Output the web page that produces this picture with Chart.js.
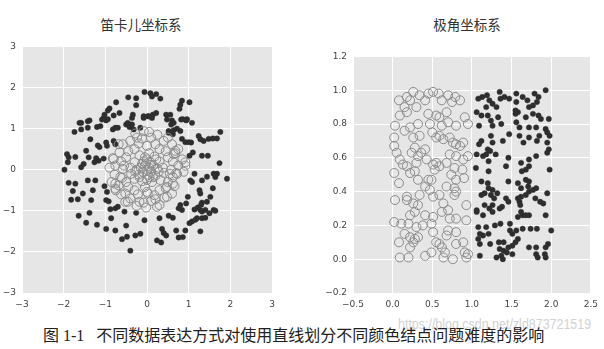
<!DOCTYPE html>
<html>
<head>
<meta charset="utf-8">
<script src="https://cdn.jsdelivr.net/npm/chart.js@4/dist/chart.umd.min.js"></script>
<style>
  html, body { margin: 0; padding: 0; background: #ffffff; }
  body { width: 604px; height: 349px; position: relative; overflow: hidden; }
  .box { position: absolute; }
  .title { position: absolute; font-family: "Noto Sans CJK SC", sans-serif; font-size: 13.5px; color: #333; transform: translateX(-50%); white-space: nowrap; line-height: 1; }
  #caption { position: absolute; left: 43px; top: 328px; font-family: "Liberation Serif", "Noto Sans CJK SC", serif; font-size: 16px; color: #222; white-space: nowrap; line-height: 1; }
  #watermark { position: absolute; left: 398px; top: 316px; font-family: "Liberation Sans", sans-serif; font-size: 15px; color: #d2d2d2; white-space: nowrap; line-height: 1; transform: scaleX(0.83); transform-origin: left top; }
</style>
</head>
<body>
<div class="title" style="left:141px; top:18px;">笛卡儿坐标系</div>
<div class="title" style="left:467px; top:18px;">极角坐标系</div>
<div class="box" style="left:0px; top:35px; width:285px; height:275px;"><canvas id="c1"></canvas></div>
<div class="box" style="left:320px; top:45px; width:284px; height:265px;"><canvas id="c2"></canvas></div>
<div id="watermark">https://blog.csdn.net/zld873721519</div>
<div id="caption">图 1-1&nbsp;&nbsp;&nbsp;不同数据表达方式对使用直线划分不同颜色结点问题难度的影响</div>
<script>
// ---------- DATA ----------
const cartesianTicks = [-3, -2, -1, 0, 1, 2, 3];
const polarXTicks = [-0.5, 0.0, 0.5, 1.0, 1.5, 2.0, 2.5];
const polarYTicks = [-0.2, 0.0, 0.2, 0.4, 0.6, 0.8, 1.0, 1.2];

// Cartesian: outer ring (filled dark dots)
const cartesianDots = [
  [-1.58,1.14],[-1.38,1.2],[-1.42,1.02],[-1.74,0.92],[-1.58,0.98],[-1.2,1.04],[-1.12,1.06],[-1.36,0.74],
  [-1.18,0.59],[-1.14,0.55],[-1.46,0.46],[-1.92,0.38],[-1.72,0.31],[-1.88,0.3],[-1.9,0.18],[-1.4,0.3],
  [-1.22,0.28],[-1.16,0.22],[-1.04,0.27],[-1.26,0.18],[-1.52,0.14],[-1.58,0.06],[-1.98,0.0],[-1.88,-0.32],
  [-1.72,-0.34],[-1.78,-0.52],[-1.82,-0.73],[-1.66,-0.72],[-1.54,-0.58],[-1.42,-0.26],[-1.30,-0.5],[-1.24,-0.26],
  [-1.34,-0.74],[-1.02,-0.4],[-0.96,-0.54],[-0.98,-0.74],[-0.92,-0.77],[-0.88,-0.96],[-0.76,-0.94],[-0.7,-0.9],
  [-1.64,-1.12],[-1.38,-1.05],[-1.46,-1.29],[-1.2,-1.34],[-0.98,-1.44],[-0.76,-1.48],[-0.86,-1.18],[-0.54,-1.02],
  [-0.5,-1.36],[-0.6,-1.69],[-0.48,-1.63],[-0.28,-1.6],[-0.16,-1.56],[-0.4,-1.97],[-0.26,-1.05],[-0.06,-1.23],
  [0.24,-1.72],[0.34,-1.77],[0.36,-1.44],[0.46,-1.6],[0.4,-1.54],[0.3,-1.18],[0.52,-1.12],[0.62,-1.17],
  [0.70,-1.48],[0.76,-1.65],[0.86,-1.64],[0.92,-1.48],[0.76,-0.94],[0.84,-0.98],[0.8,-0.86],[0.94,-0.82],
  [0.98,-0.66],[1.02,-1.3],[1.08,-1.26],[1.16,-1.22],[1.28,-1.5],[1.2,-1.18],[1.14,-0.97],[1.22,-0.92],
  [1.28,-0.98],[1.32,-1.18],[1.4,-1.17],[1.32,-1.02],[1.4,-0.98],[1.5,-1.06],[1.6,-0.98],[1.64,-1.0],
  [1.44,-0.78],[1.32,-0.8],[1.3,-0.85],[1.52,-0.66],[1.58,-0.45],[1.64,-0.18],[1.68,-0.1],[1.6,-0.1],
  [1.44,-0.17],[1.32,-0.26],[1.26,-0.5],[1.28,-0.58],[1.08,-0.3],[1.04,-0.26],[1.14,-0.1],[1.92,-0.22],
  [1.74,0.16],[1.02,0.34],[1.10,0.42],[1.32,0.34],[1.46,0.34],[1.06,0.66],[0.92,0.67],[0.84,0.75],
  [1.28,0.74],[1.36,0.7],[1.48,0.75],[1.58,0.76],[1.68,0.76],[1.76,0.92],[1.24,0.82],[0.8,0.94],
  [0.64,0.96],[0.72,1.0],[0.52,0.94],[0.86,1.23],[0.96,1.23],[1.08,1.14],[0.6,1.2],
  [-0.06,1.89],[0.08,1.86],[0.22,1.84],[0.12,1.78],[0.32,1.73],[-0.45,1.76],[-0.26,1.74],[-0.26,1.57],
  [-0.74,1.64],[-0.9,1.49],[-0.94,1.44],[-0.66,1.38],[-1.02,1.34],[-0.8,1.32],[0.84,1.68],[1.02,1.64],
  [0.8,1.58],[0.78,1.48],[0.22,1.38],[0.14,1.34],[0.02,1.30],[-0.34,1.34],[-0.36,1.26],[-0.08,1.26],
  [0.46,1.34],[0.56,1.34],[-1.08,1.22],[-0.98,1.2],[-1.62,1.14],[-1.42,1.18],[-0.46,1.14],[0.82,1.22],
  [0.94,1.2],[-1.04,1.26],[-0.94,1.23],[-0.76,1.02],[-0.82,0.98],[-0.7,1.02],[-0.8,0.7],[-0.98,0.66],
  [-0.96,0.58],[-0.76,0.62],[-0.5,1.1],[-0.42,1.04],[-0.36,1.1],[-0.32,0.98],[-0.16,1.02],[-0.08,1.3],
  [0.04,1.3],[0.12,1.26],[0.48,1.22],[0.58,1.1],[0.64,1.14],[0.52,0.9],[0.62,0.86],[1.0,0.67]
];

// Cartesian: inner cluster (hollow grey circles)
const cartesianCircles = [
  [0,0],[0.05,0.05],[-0.05,0.1],[0.1,-0.05],[-0.1,-0.05],[0.02,-0.12],[-0.15,0.05],[0.15,0.1],
  [0.08,0.18],[-0.08,0.2],[-0.2,-0.12],[0.2,-0.15],[0.25,0.02],[-0.25,0.0],[0.0,0.25],[0.0,-0.25],
  [0.12,-0.3],[-0.12,-0.28],[0.3,0.2],[-0.3,0.18],[-0.3,-0.22],[0.32,-0.25],[0.18,0.32],[-0.18,0.35],
  [0.38,0.05],[-0.4,0.05],[0.05,0.4],[-0.05,-0.42],[0.4,-0.08],[-0.38,-0.1],
  [0.5,0.3],[-0.5,0.3],[0.5,-0.3],[-0.5,-0.3],[0.3,0.5],[-0.3,0.5],[0.3,-0.5],[-0.3,-0.5],
  [0.58,0.0],[-0.58,0.02],[0.0,0.58],[0.02,-0.58],[0.45,0.45],[-0.45,0.45],[0.45,-0.45],[-0.45,-0.42],
  [0.62,0.2],[-0.62,0.2],[0.62,-0.18],[-0.6,-0.2],[0.2,0.62],[-0.2,0.64],[0.18,-0.62],[-0.22,-0.6],
  [0.75,0.1],[-0.76,0.1],[0.72,-0.1],[-0.78,-0.12],[0.1,0.78],[-0.12,0.76],[0.1,-0.76],[-0.08,-0.8],
  [0.68,0.4],[-0.66,0.42],[0.66,-0.4],[-0.68,-0.38],[0.4,0.7],[-0.4,0.7],[0.42,-0.68],[-0.4,-0.7],
  [0.85,0.25],[-0.82,0.28],[0.88,-0.05],[-0.85,-0.3],[0.25,0.85],[-0.28,0.88],[0.3,-0.86],[-0.25,-0.88],
  [0.6,0.62],[-0.58,0.62],[0.6,-0.58],[-0.62,-0.6],[0.92,0.1],[-0.9,0.05],[0.05,0.92],[-0.02,-0.92],
  [0.75,0.5],[-0.75,-0.5],[0.5,0.78],[-0.52,-0.78],[0.55,-0.1],[-0.55,0.1],
  [-0.52,-0.58],[-0.46,-0.78],[-0.18,-0.78],[0.2,-0.72],[0.48,-0.66],[0.62,-0.34],[0.7,-0.08],[0.92,0.18],
  [0.64,0.38],[0.68,0.46],[-0.08,0.94],[-0.24,0.78],[-0.68,0.62],[-0.8,0.26],[-0.76,-0.34],[-0.76,-0.46],
  [-0.64,-0.18],[0.24,-0.9],[0.0,-0.54],[0.48,-0.42],
  [0.1,0.12],[-0.12,0.14],[0.15,-0.18],[-0.18,-0.18],[0.22,0.25],[-0.05,0.3],[0.28,-0.05],[-0.28,-0.05],
  [0.06,-0.18],[-0.02,0.15]
];

// Polar: radius > 1 (filled dark dots), x = radius, y = angle fraction
const polarDots = [
  [1.06,0.87],[1.12,0.85],[1.09,0.79],[1.2,0.85],[1.24,0.82],[1.26,0.79],[1.33,0.84],[1.37,0.8],
  [1.24,0.73],[1.12,0.7],[1.09,0.68],[1.2,0.65],[1.23,0.64],[1.18,0.62],[1.3,0.62],[1.06,0.62],
  [1.14,0.61],[1.21,0.58],[1.05,0.54],[1.26,0.69],[1.39,0.7],[1.47,0.74],[1.46,0.6],[1.43,0.55],
  [1.21,0.52],[1.55,0.86],[1.56,0.81],[1.58,0.87],[1.68,0.84],[1.77,0.86],[1.84,0.85],[1.87,0.83],
  [1.97,0.83],[1.6,0.78],[1.6,0.73],[1.72,0.78],[1.81,0.78],[1.93,0.77],[1.95,0.75],[1.98,0.73],
  [1.72,0.72],[1.82,0.7],[1.85,0.73],[1.65,0.69],[1.95,0.69],[1.97,0.65],[1.95,0.63],[1.81,0.61],
  [1.72,0.59],[1.62,0.57],[1.72,0.55],[1.68,0.53],[1.63,0.52],[1.98,0.53],[1.12,0.46],[1.2,0.45],
  [1.21,0.42],[1.26,0.41],[1.16,0.39],[1.32,0.39],[1.12,0.38],[1.24,0.38],[1.28,0.36],[1.46,0.46],
  [1.58,0.45],[1.68,0.47],[1.72,0.46],[1.71,0.43],[1.62,0.42],[1.77,0.41],[1.81,0.42],[1.72,0.4],
  [1.68,0.38],[1.62,0.37],[1.8,0.36],[1.86,0.34],[1.9,0.33],[1.95,0.39],[1.43,0.36],[1.46,0.34],
  [1.58,0.36],[1.6,0.34],[1.61,0.32],[1.62,0.28],[1.64,0.26],[1.58,0.25],[1.68,0.26],[1.72,0.26],
  [1.93,0.26],[1.06,0.29],[1.06,0.28],[1.14,0.26],[1.22,0.3],[1.26,0.28],[1.35,0.3],[1.38,0.31],
  [1.26,0.32],[1.16,0.32],[1.08,0.19],[1.18,0.19],[1.29,0.2],[1.36,0.21],[1.48,0.21],[1.1,0.15],
  [1.14,0.14],[1.21,0.15],[1.08,0.12],[1.1,0.09],[1.23,0.09],[1.34,0.1],[1.4,0.1],[1.48,0.17],
  [1.51,0.15],[1.56,0.17],[1.55,0.1],[1.58,0.12],[1.51,0.08],[1.46,0.07],[1.35,0.06],[1.4,0.05],
  [1.44,0.04],[1.37,0.02],[1.31,0.01],[1.39,0.0],[1.51,0.03],[1.1,0.02],[1.64,0.18],[1.74,0.18],
  [1.82,0.18],[2.0,0.17],[1.72,0.07],[1.81,0.07],[1.81,0.03],[1.83,0.01],[1.93,0.07],[1.96,0.09],
  [1.92,0.03],[1.93,0.01],
  [1.08,0.95],[1.13,0.96],[1.19,0.97],[1.22,0.94],[1.26,0.92],[1.35,0.99],[1.36,0.95],[1.41,0.96],
  [1.47,0.95],[1.56,0.98],[1.64,0.96],[1.70,0.94],[1.79,0.98],[1.84,0.96],[1.93,1.0],[1.72,0.9],
  [1.77,0.91],[1.82,0.93],[1.18,0.9],[1.31,0.9],[1.56,0.93],[1.55,0.88]
];

// Polar: radius < 1 (hollow grey circles)
const polarCircles = [
  [0.02,0.51],[0.03,0.35],[0.02,0.22],[0.08,0.1],[0.09,0.01],[0.03,0.79],[0.02,0.72],[0.02,0.67],
  [0.05,0.63],[0.09,0.59],[0.13,0.56],[0.08,0.45],[0.18,0.55],[0.18,0.37],[0.18,0.35],[0.11,0.21],
  [0.2,0.21],[0.15,0.15],[0.22,0.13],[0.28,0.12],[0.32,0.13],[0.26,0.1],[0.22,0.07],[0.3,0.19],
  [0.28,0.28],[0.22,0.26],[0.26,0.33],[0.32,0.32],[0.41,0.26],[0.2,0.01],[0.32,0.47],[0.28,0.52],
  [0.22,0.51],[0.3,0.57],[0.32,0.61],[0.36,0.63],[0.41,0.65],[0.28,0.66],[0.24,0.63],[0.26,0.72],
  [0.34,0.73],[0.15,0.76],[0.22,0.78],[0.32,0.8],[0.09,0.85],[0.18,0.87],[0.45,0.86],[0.47,0.8],
  [0.5,0.75],[0.55,0.72],[0.59,0.73],[0.64,0.71],[0.72,0.72],[0.76,0.69],[0.8,0.68],[0.85,0.67],
  [0.89,0.69],[0.95,0.8],[0.91,0.84],[0.8,0.79],[0.7,0.81],[0.62,0.79],[0.55,0.85],[0.59,0.84],
  [0.68,0.87],[0.43,0.59],[0.51,0.56],[0.55,0.57],[0.53,0.53],[0.59,0.55],[0.68,0.57],[0.72,0.62],
  [0.8,0.61],[0.89,0.59],[0.95,0.61],[0.78,0.54],[0.88,0.53],[0.9,0.48],[0.8,0.47],[0.74,0.5],
  [0.68,0.43],[0.78,0.42],[0.8,0.4],[0.78,0.38],[0.93,0.32],[0.93,0.23],[0.8,0.24],[0.72,0.24],
  [0.7,0.29],[0.62,0.28],[0.51,0.37],[0.47,0.41],[0.41,0.43],[0.45,0.47],[0.49,0.47],[0.59,0.38],
  [0.64,0.33],[0.51,0.25],[0.49,0.21],[0.51,0.16],[0.55,0.1],[0.59,0.09],[0.62,0.07],[0.66,0.04],
  [0.64,0.01],[0.76,0.0],[0.8,0.09],[0.8,0.16],[0.7,0.17],[0.68,0.14],[0.89,0.1],[0.91,0.04],
  [0.95,0.03],[0.93,0.01],[0.49,0.04],[0.41,0.02],[0.38,0.2],[0.34,0.38],
  [0.18,0.96],[0.26,0.99],[0.34,0.97],[0.45,0.98],[0.51,0.99],[0.58,0.98],[0.7,0.97],[0.79,0.96],
  [0.85,0.94],[0.08,0.94],[0.22,0.94],[0.41,0.94],[0.3,0.9],[0.15,0.9],[0.75,0.93],[0.62,0.94]
];

// ---------- STYLE / RENDER ----------
const toPts = arr => arr.map(p => ({ x: p[0], y: p[1] }));
const fmtMinus = s => String(s).replace('-', '\u2212');

const bgPlugin = {
  id: 'plotBg',
  beforeDraw(chart) {
    const a = chart.chartArea, ctx = chart.ctx;
    ctx.save();
    ctx.fillStyle = '#e6e6e6';
    ctx.fillRect(a.left, a.top, a.right - a.left, a.bottom - a.top);
    ctx.restore();
  }
};

const tickFont = { family: 'DejaVu Sans', size: 9 };
const tickColor = '#444';

function makeScale(ticksArr, fmt, fit) {
  return {
    type: 'linear',
    min: ticksArr[0],
    max: ticksArr[ticksArr.length - 1],
    afterBuildTicks(scale) { scale.ticks = ticksArr.map(v => ({ value: v })); },
    afterFit: fit,
    grid: { color: '#ffffff', lineWidth: 1, drawTicks: false },
    border: { display: false },
    ticks: { font: tickFont, color: tickColor, padding: 6, callback: v => fmt(v) }
  };
}

function makeChart(id, circles, dots, xTicks, yTicks, xFmt, yFmt, yW, xH, pad) {
  new Chart(document.getElementById(id), {
    type: 'scatter',
    data: {
      datasets: [
        { data: toPts(circles), pointRadius: 4.5, pointHoverRadius: 4.5, pointBackgroundColor: 'rgba(0,0,0,0)', pointBorderColor: '#8c8c8c', pointBorderWidth: 1 },
        { data: toPts(dots), pointRadius: 2.7, pointHoverRadius: 2.7, pointBackgroundColor: '#2e2e2e', pointBorderColor: '#2e2e2e', pointBorderWidth: 0.4 }
      ]
    },
    options: {
      responsive: true,
      maintainAspectRatio: false,
      animation: false,
      events: [],
      layout: { padding: pad },
      plugins: { legend: { display: false }, tooltip: { enabled: false }, title: { display: false } },
      scales: {
        x: makeScale(xTicks, xFmt, s => { s.height = xH; }),
        y: makeScale(yTicks, yFmt, s => { s.width = yW; })
      }
    },
    plugins: [bgPlugin]
  });
}

makeChart('c1', cartesianCircles, cartesianDots, cartesianTicks, cartesianTicks,
  v => fmtMinus(v), v => fmtMinus(v), 22, 17, { top: 8, right: 13, left: 0, bottom: 0 });
makeChart('c2', polarCircles, polarDots, polarXTicks, polarYTicks,
  v => fmtMinus(Number(v).toFixed(1)), v => fmtMinus(Number(v).toFixed(1)), 33, 17, { top: 10, right: 12, left: 0, bottom: 0 });
</script>
</body>
</html>
